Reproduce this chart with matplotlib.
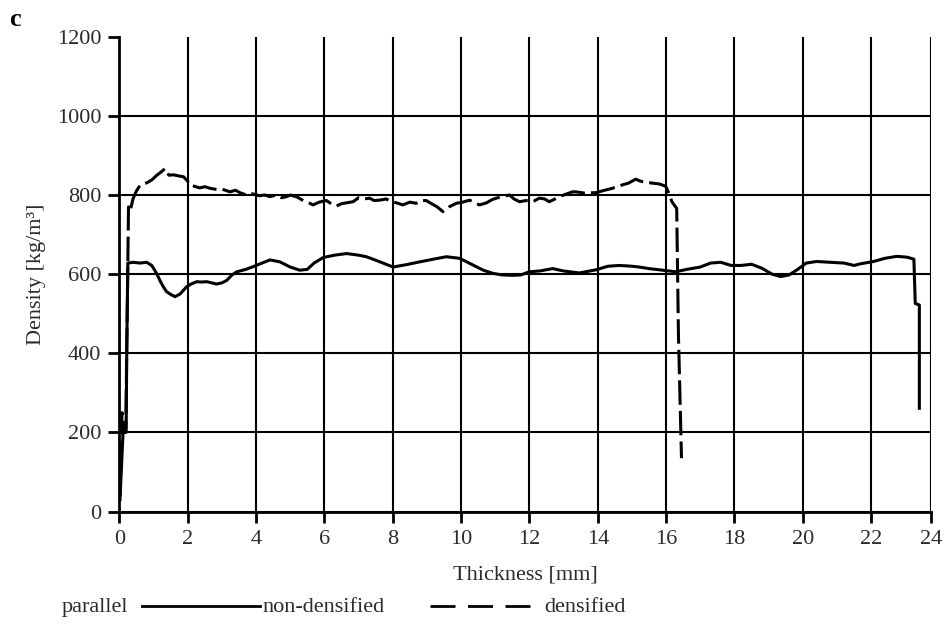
import matplotlib
matplotlib.use('Agg')
import matplotlib.pyplot as plt
from matplotlib.lines import Line2D

plt.rcParams['font.family'] = ['Liberation Serif', 'DejaVu Serif']
plt.rcParams['font.size'] = 16

# non-densified profile (solid)
thick_nd = [0.02, 0.12, 0.15, 0.20, 0.22, 0.25, 0.40, 0.60, 0.80, 0.95, 1.09, 1.20, 1.29, 1.38,
            1.48, 1.63, 1.78, 1.97, 2.10, 2.27, 2.40, 2.56, 2.70, 2.85, 3.00, 3.14, 3.30, 3.44,
            3.70, 3.92, 4.12, 4.41, 4.70, 5.00, 5.28, 5.50, 5.70, 5.97, 6.30, 6.65, 7.00, 7.23,
            7.60, 8.01, 8.40, 8.79, 9.20, 9.57, 9.96, 10.35, 10.65, 10.93, 11.20, 11.51, 11.75,
            12.00, 12.30, 12.68, 13.00, 13.46, 13.95, 14.30, 14.63, 15.00, 15.21, 15.50, 15.80,
            16.28, 16.60, 17.00, 17.30, 17.60, 17.90, 18.20, 18.50, 18.80, 19.10, 19.35, 19.60,
            19.85, 20.10, 20.40, 20.80, 21.20, 21.50, 21.68, 22.07, 22.40, 22.75, 23.04, 23.25,
            23.29, 23.41, 23.41]
dens_nd = [30, 218, 200, 200, 420, 628, 630, 628, 630, 622, 602, 582, 568, 556,
           550, 543, 550, 568, 575, 581, 580, 581, 578, 575, 578, 584, 598, 606,
           612, 619, 626, 636, 631, 618, 610, 612, 628, 642, 648, 652, 648, 644,
           632, 618, 624, 631, 638, 644, 640, 623, 610, 602, 598, 597, 598,
           606, 608, 614, 608, 603, 611, 620, 622, 620, 618, 614, 611,
           606, 612, 618, 628, 630, 622, 622, 625, 615, 600, 594, 598,
           612, 628, 632, 630, 628, 622, 626, 632, 640, 645, 643, 638,
           526, 522, 261]

# densified profile (dashed)
thick_d = [0.02, 0.08, 0.12, 0.19, 0.24, 0.27, 0.32, 0.40, 0.50, 0.61, 0.81, 0.95, 1.10, 1.25,
           1.34, 1.45, 1.59, 1.75, 1.88, 2.00, 2.07, 2.20, 2.35, 2.51, 2.65, 2.85, 3.00, 3.24,
           3.40, 3.55, 3.73, 3.90, 4.10, 4.25, 4.41, 4.60, 4.75, 4.90, 5.00, 5.20, 5.38, 5.55,
           5.67, 5.85, 6.06, 6.20, 6.35, 6.50, 6.70, 6.84, 7.00, 7.15, 7.33, 7.45, 7.62, 7.80,
           8.00, 8.15, 8.30, 8.50, 8.69, 8.85, 8.98, 9.10, 9.18, 9.30, 9.47, 9.65, 9.86, 10.05,
           10.25, 10.40, 10.54, 10.74, 10.90, 11.03, 11.20, 11.42, 11.55, 11.71, 11.90, 12.10,
           12.29, 12.45, 12.58, 12.75, 12.88, 13.10, 13.26, 13.36, 13.60, 13.95, 14.20, 14.43,
           14.70, 14.90, 15.11, 15.25, 15.41, 15.60, 15.80, 15.99, 16.10, 16.17, 16.31, 16.36,
           16.45]
dens_d = [40, 250, 200, 210, 560, 770, 760, 790, 810, 825, 831, 838, 850, 860,
          867, 850, 851, 848, 846, 835, 825, 822, 818, 821, 817, 814, 815, 808,
          812, 805, 800, 803, 798, 800, 796, 800, 793, 796, 800, 795, 786, 780,
          775, 782, 786, 778, 772, 778, 781, 783, 793, 790, 792, 786, 787, 790,
          783, 779, 775, 782, 779, 786, 786, 780, 776, 770, 758, 770, 779, 782,
          787, 780, 775, 780, 788, 792, 796, 800, 790, 783, 786, 783,
          792, 790, 783, 790, 796, 803, 808, 808, 805, 806, 812, 817,
          825, 830, 840, 835, 832, 830, 828, 822, 800, 783, 766, 450,
          135]

x_ticks = [0, 2, 4, 6, 8, 10, 12, 14, 16, 18, 20, 22, 23.75]
x_labels = ['0', '2', '4', '6', '8', '10', '12', '14', '16', '18', '20', '22', '24']
y_ticks = [0, 200, 400, 600, 800, 1000, 1200]

txt_col = '#2b2b2b'

fig = plt.figure(figsize=(9.49, 6.30), dpi=100)
ax = fig.add_axes([0.1257, 0.188, 0.8553, 0.7537])

ax.plot(thick_nd, dens_nd, color='black', lw=2.2, solid_joinstyle='round')
ax.plot(thick_d, dens_d, color='black', lw=2.2, dashes=(8, 2))

ax.set_xlim(0, 23.75)
ax.set_ylim(0, 1200)
ax.set_xticks(x_ticks)
ax.set_xticklabels(x_labels)
ax.set_yticks(y_ticks)

ax.grid(True, color='black', lw=1.5)
ax.get_ygridlines()[-1].set_visible(False)
ax.set_axisbelow(True)

for s in ['top', 'right']:
    ax.spines[s].set_visible(False)
for s in ['left', 'bottom']:
    ax.spines[s].set_linewidth(2)

ax.tick_params(direction='out', length=8, width=2, pad=5, colors='black',
               labelcolor=txt_col, labelsize=16)

ax.set_xlabel('Thickness [mm]', color=txt_col, fontsize=16, labelpad=12)
ax.set_ylabel('Density [kg/m³]', color=txt_col, fontsize=16, labelpad=8)

fig.text(0.010, 0.958, 'c', fontsize=19, fontweight='bold', color='black')

# legend row
ly = 0.036
fig.text(0.065, ly, 'parallel', color=txt_col, fontsize=16, va='center')
fig.add_artist(Line2D([0.150, 0.274], [ly + 0.002, ly + 0.002], color='black', lw=2,
                      transform=fig.transFigure))
fig.text(0.277, ly, 'non-densified', color=txt_col, fontsize=16, va='center')
fig.add_artist(Line2D([0.453, 0.559], [ly + 0.002, ly + 0.002], color='black', lw=2,
                      dashes=(9, 4.5), transform=fig.transFigure))
fig.text(0.574, ly, 'densified', color=txt_col, fontsize=16, va='center')

fig.savefig('out.png', dpi=100)
